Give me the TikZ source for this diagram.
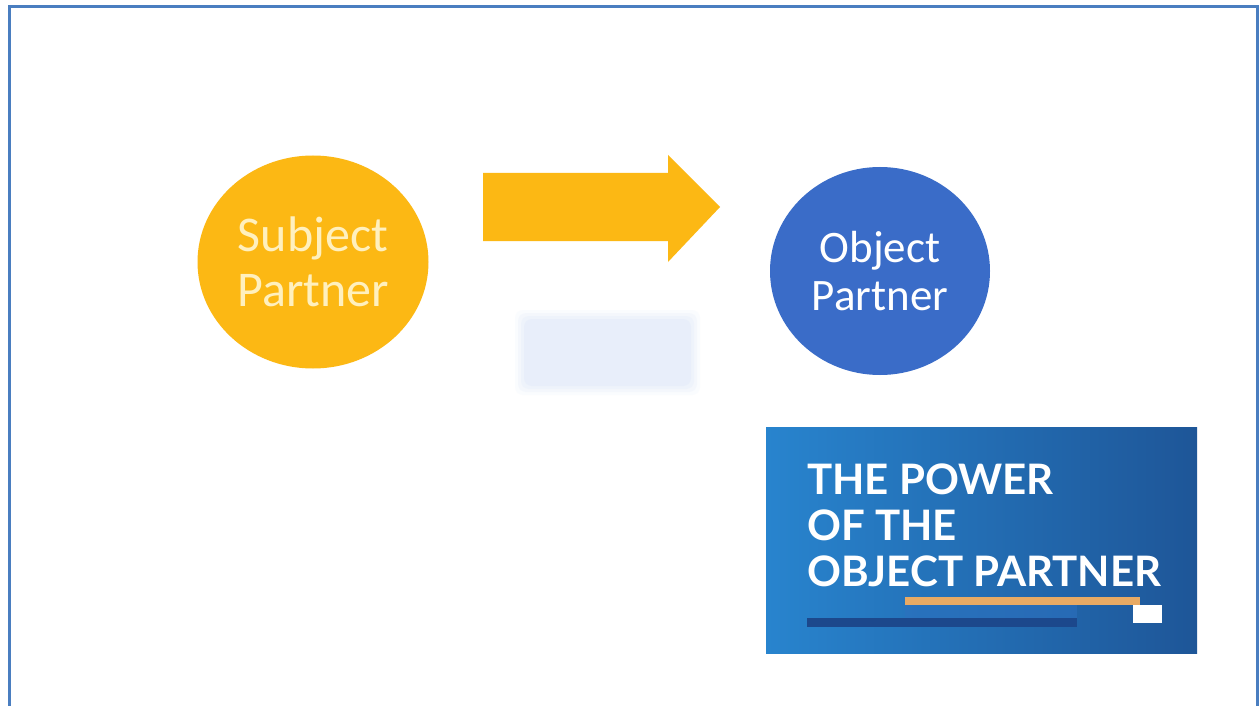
\documentclass[tikz,border=0pt]{standalone}
\usepackage{fontspec}
\usetikzlibrary{shapes.geometric}
\setmainfont{Carlito}
\newfontfamily\boxfont{Lato}
\definecolor{frameblue}{RGB}{74,126,192}
\definecolor{subjyellow}{RGB}{252,184,20}
\definecolor{textyellow}{RGB}{255,240,190}
\definecolor{objblue}{RGB}{58,108,200}
\definecolor{ghostblue}{RGB}{228,236,250}
\definecolor{boxlight}{RGB}{40,132,206}
\definecolor{boxdark}{RGB}{30,86,152}
\definecolor{barorange}{RGB}{232,170,100}
\definecolor{bardark}{RGB}{28,72,140}
\definecolor{barmid}{RGB}{44,112,190}
\tikzset{
  partner/.style={ellipse, inner sep=0pt, align=center},
  boxtext/.style={align=left, anchor=north west, inner sep=0pt,
    font=\boxfont\bfseries\fontsize{42}{46}\selectfont, text=white}
}
\begin{document}
\begin{tikzpicture}[x=1pt,y=-1pt]
\useasboundingbox (0,0) rectangle (1259,706);
\fill[white] (0,0) rectangle (1259,706);
% frame
\draw[frameblue, line width=3pt] (9,706) -- (9,7) -- (1257,7) -- (1257,706);
% subject partner
\node[partner, minimum width=231pt, minimum height=213pt, fill=subjyellow, text=textyellow,
  font=\fontsize{50}{55}\selectfont] (subj) at (313,262) {Subject\\Partner};
% arrow
\fill[subjyellow] (483,173) -- (668,173) -- (668,155) -- (720,207) -- (668,262) -- (668,241) -- (483,241) -- cycle;
\coordinate (arrowtip) at (720,207);
% ghost arrow (blurred)
\foreach \d/\o in {10/0.15,7/0.25,4/0.35,1/0.6}{
  \fill[ghostblue, opacity=\o, rounded corners=8pt] (525-\d,320-\d) rectangle (690+\d,385+\d);
}
% object partner
\node[partner, minimum width=220pt, minimum height=208pt, fill=objblue, text=white,
  font=\fontsize{45}{48}\selectfont] (obj) at (880,271) {Object\\Partner};
% box
\shade[left color=boxlight, right color=boxdark] (766,427) rectangle (1197,653);
\node[boxtext] (title) at (807,464) {THE POWER\\OF THE\\OBJECT PARTNER};
\fill[barorange] (905,597) rectangle (1140,605);
\fill[barmid, opacity=0.6] (905,605) rectangle (1077,618);
\fill[white] (1133,605) rectangle (1162,623);
\fill[bardark] (807,618) rectangle (1077,627);
\end{tikzpicture}
\end{document}
